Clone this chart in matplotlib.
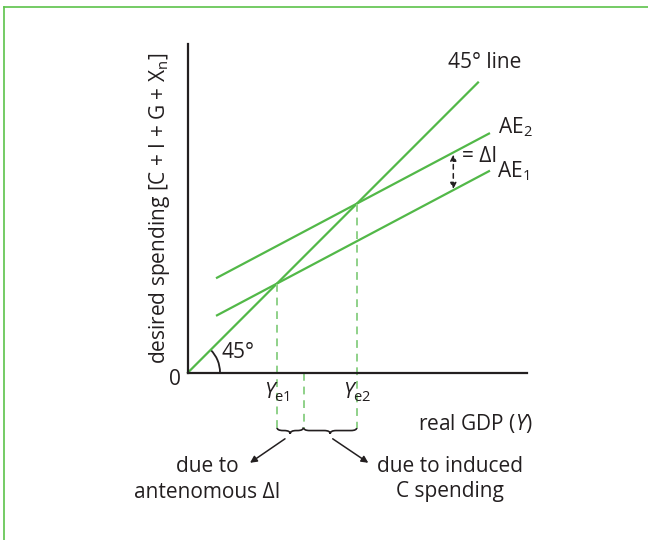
import numpy as np
import matplotlib
matplotlib.use("Agg")
import matplotlib.pyplot as plt
from matplotlib.patches import Arc, PathPatch
from matplotlib.path import Path
from matplotlib.lines import Line2D

plt.rcParams['font.family'] = ['Open Sans', 'DejaVu Sans']
plt.rcParams['mathtext.fontset'] = 'custom'
plt.rcParams['mathtext.rm'] = 'Open Sans'
plt.rcParams['mathtext.it'] = 'Open Sans:italic'

# model values (diagram units)
mpc = 0.53                      # slope of both AE lines
autonomous = [41.8, 79.4]       # intercepts of AE1, AE2
ae_x = [29, 301]                # where the AE lines are drawn
line45_x = [0, 290]
split_x = 115.5                 # split between autonomous and induced part
x_max, y_max = 339, 328.5

ye = [a / (1 - mpc) for a in autonomous]

green = '#52b848'
light_green = '#8fd189'
fs = 15

fig = plt.figure(figsize=(6.48, 5.4), dpi=100)
ax = fig.add_axes([188 / 648, (540 - 372.5) / 540, x_max / 648, y_max / 540])
ax.set_xlim(0, x_max)
ax.set_ylim(0, y_max)
ax.set_xticks([])
ax.set_yticks([])
for s in ['top', 'right']:
    ax.spines[s].set_visible(False)
for s in ['left', 'bottom']:
    ax.spines[s].set_linewidth(1.6)
    ax.spines[s].set_color('#231f20')

# 45 degree line and AE lines
ax.plot(line45_x, line45_x, color=green, lw=1.6, clip_on=False)
xs = np.array(ae_x)
for a in autonomous:
    ax.plot(xs, a + mpc * xs, color=green, lw=1.6, clip_on=False)

# dashed drop lines
y_low = -55.5
for y in ye:
    ax.plot([y, y], [y, y_low], color=light_green, lw=1.4, ls=(0, (4, 3)), clip_on=False)
ax.plot([split_x, split_x], [0, y_low], color=light_green, lw=1.4, ls=(0, (4, 3)), clip_on=False)


def brace(x0, x1, ytop, depth):
    h = depth / 2
    xm = (x0 + x1) / 2
    r = min(6, (x1 - x0) / 4)
    verts = [(x0, ytop), (x0, ytop - h), (x0 + r, ytop - h),
             (xm - r, ytop - h),
             (xm, ytop - h), (xm, ytop - depth),
             (xm, ytop - h), (xm + r, ytop - h),
             (x1 - r, ytop - h),
             (x1, ytop - h), (x1, ytop)]
    codes = [Path.MOVETO, Path.CURVE3, Path.CURVE3, Path.LINETO,
             Path.CURVE3, Path.CURVE3, Path.CURVE3, Path.CURVE3,
             Path.LINETO, Path.CURVE3, Path.CURVE3]
    ax.add_patch(PathPatch(Path(verts, codes), fill=False, lw=1.2,
                           edgecolor='#231f20', clip_on=False))


brace(ye[0], split_x, -54.8, 6.5)
brace(split_x, ye[1], -54.8, 6.5)

# 45 degree arc
ax.add_patch(Arc((0, 0), 64, 64, theta1=0, theta2=45, color='#231f20', lw=1.3, clip_on=False))
ax.text(34, 20, '45°', fontsize=fs, ha='left', va='center', color='#231f20')
ax.text(-13, -7, '0', fontsize=fs, ha='center', va='center', color='#231f20')

# equilibrium labels
ax.text(ye[0], -19.5, r'$Y_{\mathrm{e1}}$', fontsize=fs, ha='center', va='center', color='#231f20')
ax.text(ye[1], -19.5, r'$Y_{\mathrm{e2}}$', fontsize=fs, ha='center', va='center', color='#231f20')

# line labels
ax.text(297, 310, '45° line', fontsize=fs, ha='center', va='center', color='#231f20')
ax.text(310, 245, r'AE$_{\mathrm{2}}$', fontsize=fs, ha='left', va='center', color='#231f20')
ax.text(309, 201, r'AE$_{\mathrm{1}}$', fontsize=fs, ha='left', va='center', color='#231f20')
ax.text(274, 216, '= ΔI', fontsize=fs, ha='left', va='center', color='#231f20')

# delta I double arrow
x_arr = 265.3
ax.annotate('', xy=(x_arr, autonomous[1] + mpc * x_arr - 2), xytext=(x_arr, autonomous[0] + mpc * x_arr + 1),
            arrowprops=dict(arrowstyle='<|-|>', linestyle=(0, (3, 3)), lw=1.1, color='#231f20',
                            mutation_scale=9, shrinkA=0, shrinkB=0), annotation_clip=False)

# axis labels
ax.text(-28, 164, r'desired spending [C + I + G + X$_{\mathrm{n}}$]', fontsize=fs, rotation=90,
        ha='center', va='center', color='#231f20')
ax.text(287, -51, r'real GDP ($Y$)', fontsize=fs, ha='center', va='center', color='#231f20')

# explanation below
ax.text(19, -107, 'due to\nantenomous ΔI', fontsize=fs, ha='center', va='center',
        linespacing=1.25, color='#231f20')
ax.text(262, -107, 'due to induced\nC spending', fontsize=fs, ha='center', va='center',
        linespacing=1.25, color='#231f20')
ax.annotate('', xy=(62, -90.3), xytext=(97, -66.3),
            arrowprops=dict(arrowstyle='-|>', lw=1.1, color='#231f20', mutation_scale=10,
                            shrinkA=0, shrinkB=0), annotation_clip=False)
ax.annotate('', xy=(180.3, -90.3), xytext=(144.7, -66.3),
            arrowprops=dict(arrowstyle='-|>', lw=1.1, color='#231f20', mutation_scale=10,
                            shrinkA=0, shrinkB=0), annotation_clip=False)

# frame around the figure (top and left edge visible)
fig.add_artist(Line2D([4 / 648, 1], [1 - 7 / 540, 1 - 7 / 540], transform=fig.transFigure,
                      color='#5cc24a', lw=1.2))
fig.add_artist(Line2D([4 / 648, 4 / 648], [0, 1 - 7 / 540], transform=fig.transFigure,
                      color='#5cc24a', lw=1.2))

fig.savefig('out.png', dpi=100)
